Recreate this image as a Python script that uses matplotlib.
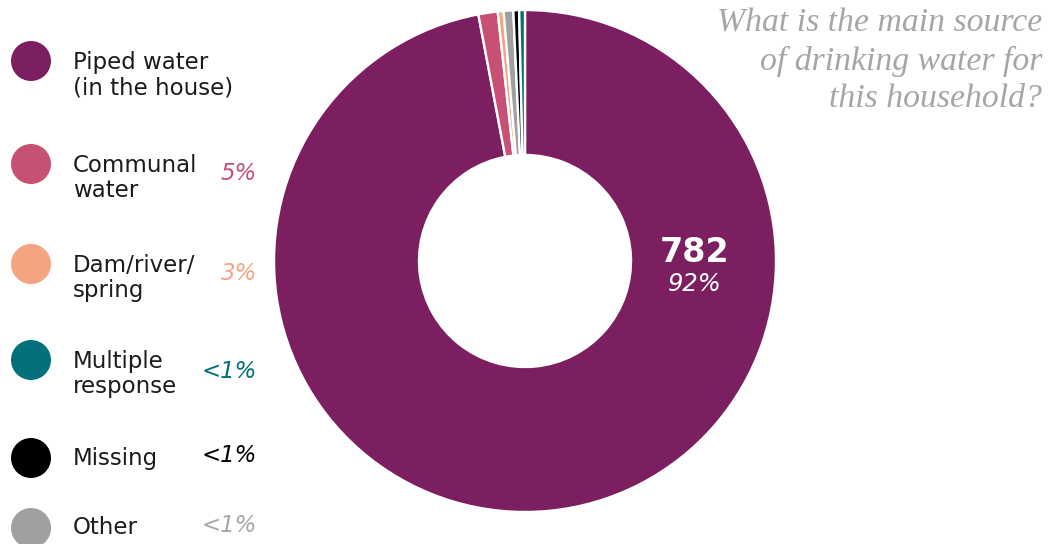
import matplotlib.pyplot as plt
from matplotlib.patches import Circle

# Household drinking-water sources
categories = ["Piped water\n(in the house)", "Communal\nwater", "Dam/river/\nspring",
              "Multiple\nresponse", "Missing", "Other"]
counts = [782, 10, 3, 3, 3, 5]
pct_labels = ["", "5%", "3%", "<1%", "<1%", "<1%"]
colors = ["#7B1F61", "#C65174", "#F5A481", "#03707A", "#000000", "#A0A0A0"]
pct_colors = ["#7B1F61", "#C65174", "#F5A481", "#03707A", "#000000", "#A8A8A8"]

# order of the wedges going clockwise from 12 o'clock
ring_order = [0, 1, 2, 5, 4, 3]

center_value = "782"
center_pct = "92%"
title_lines = ["What is the main source", "of drinking water for", "this household?"]

W, H = 1051, 544
fig = plt.figure(figsize=(W / 100, H / 100), dpi=100)
ax = fig.add_axes([0, 0, 1, 1])

def Y(y):
    return H - y

ax.pie([counts[i] for i in ring_order],
       colors=[colors[i] for i in ring_order],
       startangle=90, counterclock=False,
       center=(525, Y(261)), radius=251,
       wedgeprops=dict(width=145, edgecolor="white", linewidth=1.7))
ax.set_xlim(0, W)
ax.set_ylim(0, H)
ax.set_aspect("equal")
ax.axis("off")

# centre annotation on the dominant wedge
ax.text(695, Y(252), center_value, color="white", fontsize=24, fontweight="bold",
        ha="center", va="center", family="DejaVu Sans")
ax.text(695, Y(284), center_pct, color="white", fontsize=17.5, style="italic",
        ha="center", va="center", family="DejaVu Sans")

# legend column
legend_y = [61, 164, 264, 360, 458, 528]
pct_y = [None, 173, 274, 372, 456, 525]
for i, (lab, yc) in enumerate(zip(categories, legend_y)):
    ax.add_patch(Circle((31, Y(yc)), 20, color=colors[i], lw=0))
    nlines = lab.count("\n") + 1
    ty = yc + (14 if nlines == 2 else 0)
    ax.text(73, Y(ty), lab, fontsize=16.5, color="#1c1c1c", ha="left", va="center",
            linespacing=1.15, family="DejaVu Sans")
    if pct_labels[i]:
        ax.text(257, Y(pct_y[i]), pct_labels[i], fontsize=16.5, color=pct_colors[i],
                style="italic", ha="right", va="center", family="DejaVu Sans")

# question heading, top right
for line, base in zip(title_lines, [31, 70, 107]):
    ax.text(1042, Y(base), line, fontsize=24.3, color="#A6A6A6", style="italic",
            ha="right", va="baseline", family="Liberation Serif")

fig.savefig("out.png", dpi=100)
